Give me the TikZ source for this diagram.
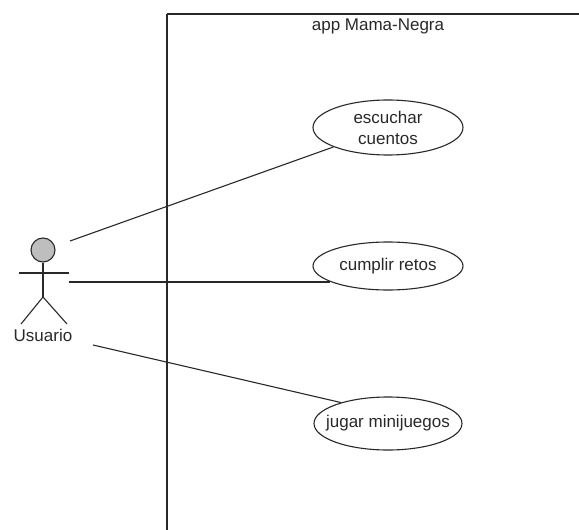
\documentclass[tikz,border=0pt]{standalone}
\usepackage{fontspec}
\setmainfont{Liberation Sans}
\usetikzlibrary{shapes.geometric}
\newcommand{\umltext}{\fontsize{17}{21}\selectfont}
\newcommand{\ucline}[1]{\makebox[0pt]{#1}}
\definecolor{headgray}{RGB}{190,190,190}
\definecolor{ink}{RGB}{40,40,40}
\begin{document}
\begin{tikzpicture}[x=1pt,y=-1pt,
  edge/.style={draw=ink, line width=1.1pt},
  usecase/.style={ellipse, draw=ink, line width=1.1pt, inner sep=0pt,
    minimum width=150pt, align=center, font=\umltext, text=ink},
  caption/.style={font=\umltext, text=ink, inner sep=0pt}]
\useasboundingbox (0,0) rectangle (579,530);

% system boundary (runs past the page edges)
\draw[edge, line width=1.4pt] (167,14) -- (167,560);
\draw[edge, line width=1.4pt] (167,14) -- (620,14);
\node[caption] (title) at (378,26) {app Mama-Negra};

% use cases
\node[usecase, minimum height=55pt] (uc1) at (388,127.5) {\ucline{escuchar}\\\ucline{cuentos}};
\node[usecase, minimum height=48pt] (uc2) at (388,266) {\ucline{cumplir retos}};
\node[usecase, minimum height=53pt, minimum width=148pt] (uc3) at (388,423.5) {\ucline{jugar minijuegos}};

% actor
\node[circle, draw=ink, line width=1.1pt, fill=headgray, minimum size=24pt, inner sep=0pt] (head) at (43,250) {};
\coordinate (hip) at (43,297);
\coordinate (handL) at (19,273);
\coordinate (handR) at (69,273);
\coordinate (footL) at (21,324);
\coordinate (footR) at (67,324);
\draw[edge] (head.south) -- (hip);
\draw[edge] (handL) -- (handR);
\draw[edge] (footL) -- (hip) -- (footR);
\node[caption] (actor) at (43,335) {Usuario};

% associations
\coordinate (a1) at (70,241);
\coordinate (a2) at (69,282);
\coordinate (a3) at (93,345);
\draw[edge] (a1) -- (uc1);
\draw[edge] (a2) -- (a2 -| uc2.195);
\draw[edge] (a3) -- (uc3.156);
\end{tikzpicture}
\end{document}
